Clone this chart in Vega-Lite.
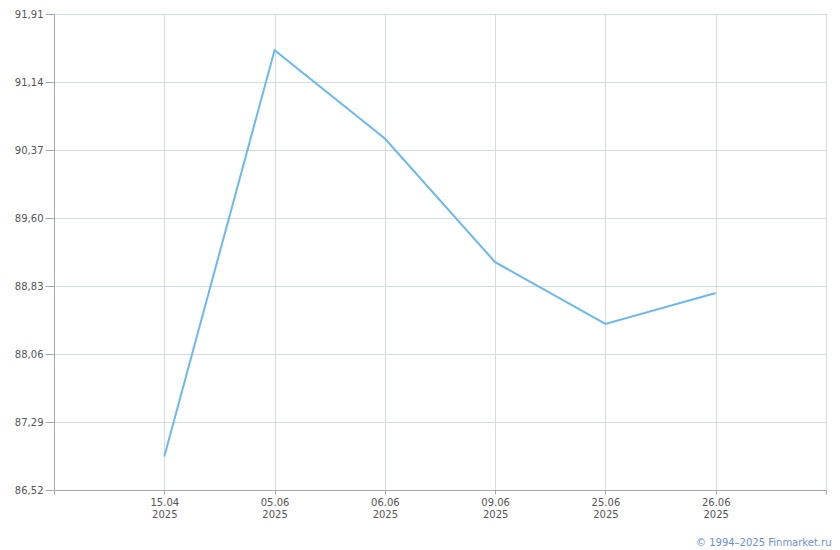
{
  "$schema": "https://vega.github.io/schema/vega-lite/v6.json",
  "width": 772,
  "height": 476,
  "autosize": {"type": "none"},
  "padding": {"left": 54, "top": 14, "right": 14, "bottom": 60},
  "background": "white",
  "config": {
    "view": {"stroke": null},
    "font": "DejaVu Sans"
  },
  "title": {
    "text": "© 1994–2025 Finmarket.ru",
    "orient": "bottom",
    "anchor": "end",
    "offset": 19,
    "dx": 5,
    "fontSize": 10,
    "fontWeight": "normal",
    "font": "DejaVu Sans",
    "color": "#6a8ed6"
  },
  "data": {
    "values": [
      {"date": "15.04 2025", "value": 86.90},
      {"date": "05.06 2025", "value": 91.50},
      {"date": "06.06 2025", "value": 90.50},
      {"date": "09.06 2025", "value": 89.10},
      {"date": "25.06 2025", "value": 88.40},
      {"date": "26.06 2025", "value": 88.75}
    ]
  },
  "mark": {"type": "line", "color": "#6cb9f0", "strokeWidth": 2},
  "encoding": {
    "x": {
      "field": "date",
      "type": "ordinal",
      "sort": null,
      "scale": {
        "type": "point",
        "domain": ["", "15.04 2025", "05.06 2025", "06.06 2025", "09.06 2025", "25.06 2025", "26.06 2025", " "],
        "padding": 0
      },
      "axis": {
        "title": null,
        "labelAngle": 0,
        "labelExpr": "split(datum.value, ' ')",
        "labelFont": "DejaVu Sans",
        "labelFontSize": 10,
        "labelColor": "#555555",
        "labelLineHeight": 12,
        "labelPadding": 3,
        "tickSize": 4,
        "tickColor": "#a6a8b2",
        "domainColor": "#a6a8b2",
        "grid": true,
        "gridColor": "#d5dce1",
        "gridWidth": 1
      }
    },
    "y": {
      "field": "value",
      "type": "quantitative",
      "scale": {"domain": [86.52, 91.91], "nice": false, "zero": false},
      "axis": {
        "title": null,
        "values": [86.52, 87.29, 88.06, 88.83, 89.60, 90.37, 91.14, 91.91],
        "labelExpr": "replace(format(datum.value, '.2f'), '.', ',')",
        "labelFont": "DejaVu Sans",
        "labelFontSize": 10,
        "labelColor": "#555555",
        "labelPadding": 2,
        "tickSize": 9,
        "tickColor": "#a6a8b2",
        "domainColor": "#a6a8b2",
        "grid": true,
        "gridColor": "#d5dce1",
        "gridWidth": 1
      }
    }
  }
}
